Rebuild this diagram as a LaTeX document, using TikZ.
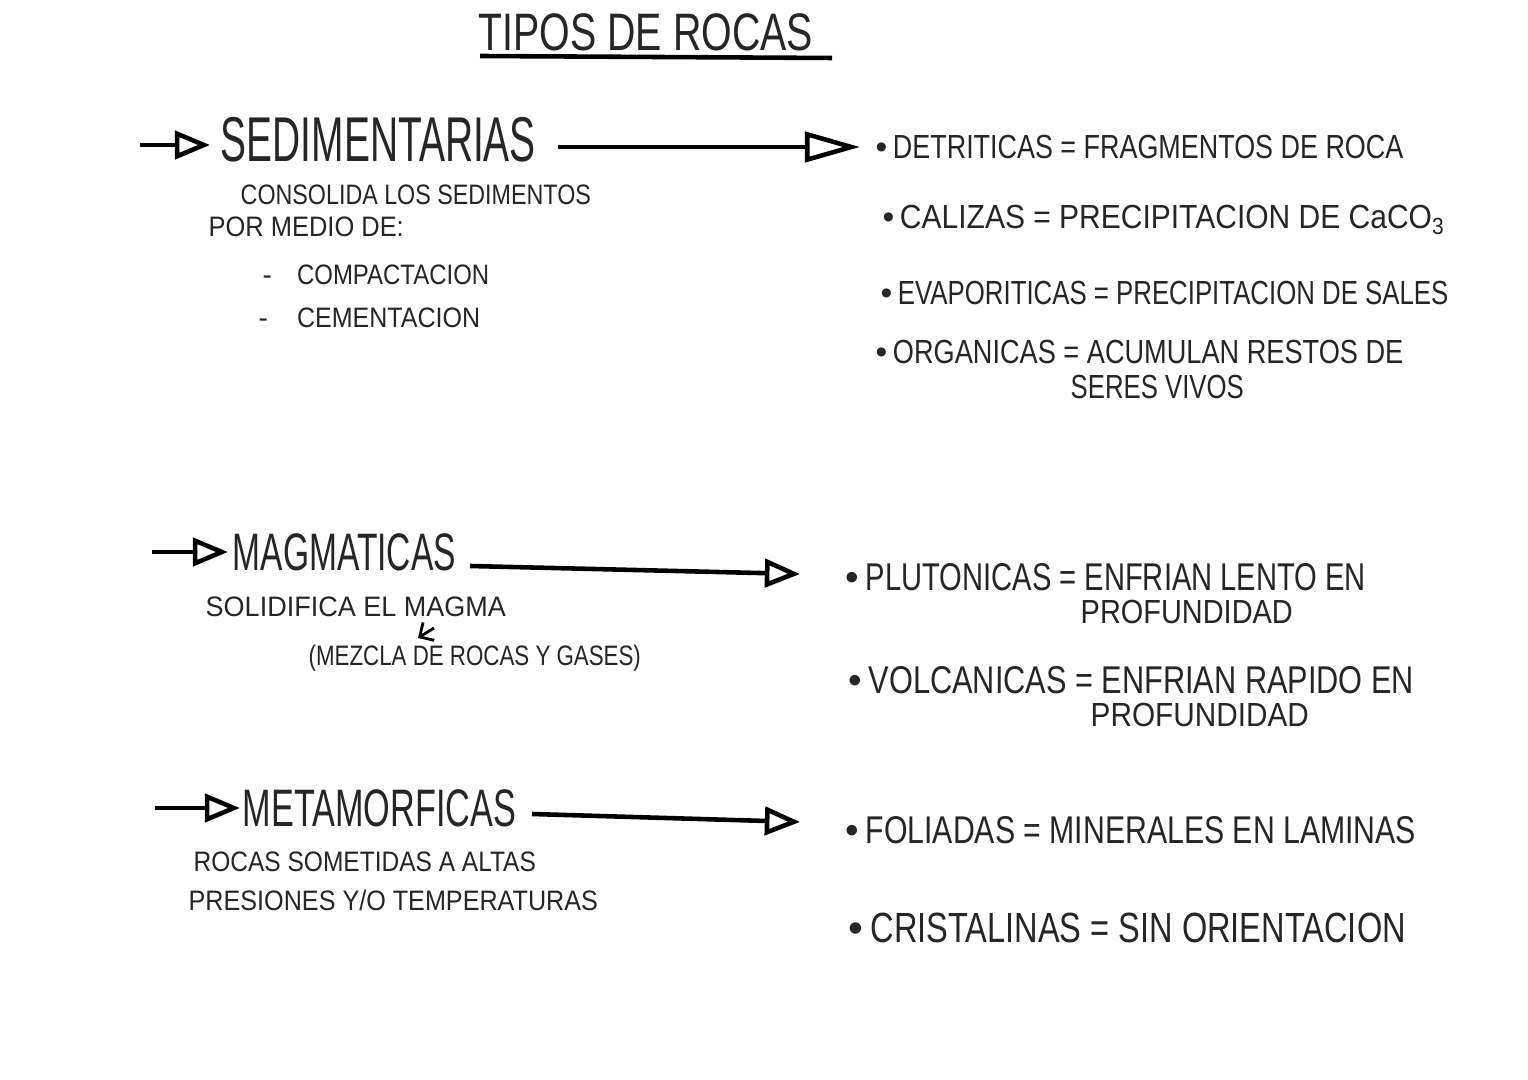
\documentclass[tikz,border=0pt]{standalone}
\usepackage{fontspec}
\setmainfont{Liberation Sans}
\usetikzlibrary{arrows.meta}
\newcommand{\fw}[2]{\resizebox{#1}{\height}{#2}}
\newcommand{\bul}{\textbullet\,}
\begin{document}
\begin{tikzpicture}[x=0.01cm,y=-0.01cm,
  txt/.style={anchor=west,inner sep=0pt,text=black!85},
  big/.style={txt,font=\fontsize{15}{15}\selectfont},
  mid/.style={txt,font=\fontsize{9.5}{10}\selectfont},
  sml/.style={txt,font=\fontsize{8}{9}\selectfont},
  arr/.style={line width=1.3pt,-{Triangle[open,length=10pt,width=8pt]}},
  bigarr/.style={line width=1.3pt,-{Triangle[open,length=0.55cm,width=0.3cm]}}]
\fill[white] (0,0) rectangle (1528,1080);
\useasboundingbox (0,0) rectangle (1528,1080);
% title
\node[big] (title) at (478,32) {\fw{3.34cm}{TIPOS DE ROCAS}};
\coordinate (u1) at (480,56); \coordinate (u2) at (832,58);
\draw[line width=1.3pt] (u1) -- (u2);
% sedimentarias
\coordinate (a1) at (140,145); \coordinate (a2) at (210,145);
\draw[arr] (a1) -- (a2);
\node[big,font=\fontsize{18}{18}\selectfont] (sed) at (220,140) {\fw{3.15cm}{SEDIMENTARIAS}};
\coordinate (b2) at (860,147);
\draw[bigarr] (558,147) -- (b2);
\node[sml] (s1) at (240,195) {\fw{3.5cm}{CONSOLIDA LOS SEDIMENTOS}};
\node[sml] (s2) at (208,227) {\fw{1.95cm}{POR MEDIO DE:}};
\node[sml] (s3) at (262,275) {-\hspace{0.25cm}\fw{1.92cm}{COMPACTACION}};
\node[sml] (s4) at (258,318) {-\hspace{0.29cm}\fw{1.83cm}{CEMENTACION}};
\node[mid] (r1) at (875,147) {\bul\fw{5.1cm}{DETRITICAS = FRAGMENTOS DE ROCA}};
\node[mid] (r2) at (882,220) {\bul\fw{5.45cm}{CALIZAS = PRECIPITACION DE CaCO\textsubscript{3}}};
\node[mid] (r3) at (880,293) {\bul\fw{5.5cm}{EVAPORITICAS = PRECIPITACION DE SALES}};
\node[mid] (r4) at (875,352) {\bul\fw{5.1cm}{ORGANICAS = ACUMULAN RESTOS DE}};
\node[mid] (r5) at (1070,387) {\fw{1.73cm}{SERES VIVOS}};
% magmaticas
\draw[arr] (152,552) -- (228,552);
\node[big] (mag) at (232,552) {\fw{2.23cm}{MAGMATICAS}};
\draw[arr] (470,566) -- (800,574);
\node[sml] (m1) at (205,607) {\fw{3cm}{SOLIDIFICA EL MAGMA}};
\draw[line width=0.8pt,-{Straight Barb[length=3pt]}] (434,628) -- (418,638);
\node[sml] (m2) at (308,658) {\fw{3.32cm}{(MEZCLA DE ROCAS Y GASES)}};
\node[mid,font=\fontsize{11}{12}\selectfont] (p1) at (845,577) {\bul\fw{5cm}{PLUTONICAS = ENFRIAN LENTO EN}};
\node[mid] (p2) at (1080,612) {\fw{2.12cm}{PROFUNDIDAD}};
\node[mid,font=\fontsize{11}{12}\selectfont] (v1) at (848,680) {\bul\fw{5.45cm}{VOLCANICAS = ENFRIAN RAPIDO EN}};
\node[mid] (v2) at (1090,715) {\fw{2.18cm}{PROFUNDIDAD}};
% metamorficas
\draw[arr] (155,808) -- (240,808);
\node[big] (met) at (242,808) {\fw{2.73cm}{METAMORFICAS}};
\draw[arr] (532,814) -- (800,822);
\node[sml] (t1) at (193,862) {\fw{3.42cm}{ROCAS SOMETIDAS A ALTAS}};
\node[sml] (t2) at (188,900) {\fw{4.09cm}{PRESIONES Y/O TEMPERATURAS}};
\node[mid,font=\fontsize{11}{12}\selectfont] (f1) at (845,830) {\bul\fw{5.5cm}{FOLIADAS = MINERALES EN LAMINAS}};
\node[mid,font=\fontsize{12}{13}\selectfont] (c1) at (848,928) {\bul\fw{5.35cm}{CRISTALINAS = SIN ORIENTACION}};
\end{tikzpicture}
\end{document}
